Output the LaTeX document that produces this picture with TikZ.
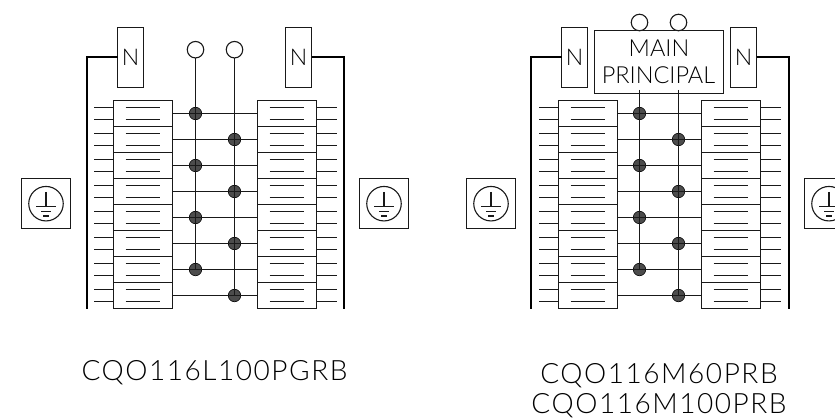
\documentclass[tikz,border=0pt]{standalone}
\usepackage{fontspec}
\newfontfamily\lbl[UprightFont={* Light},LetterSpace=5.5]{Lato}
\newfontfamily\lblN[UprightFont={* Light}]{Lato}
\begin{document}
\begin{tikzpicture}[x=1pt,y=-1pt,
  bus/.style={line width=2pt,black},
  wire/.style={line width=1.2pt,black!90},
  rowbox/.style={draw=black!90,line width=1.4pt,fill=white,minimum width=59pt,minimum height=26pt,inner sep=0pt,outer sep=0pt},
  nbox/.style={draw=black!90,line width=1.3pt,fill=white,minimum width=26pt,minimum height=60pt,inner sep=0pt,outer sep=0pt,font=\lblN\fontsize{23}{23}\selectfont},
  mbox/.style={draw=black!90,line width=1.3pt,fill=white,minimum width=129pt,minimum height=63pt,inner sep=0pt,outer sep=0pt},
  gbox/.style={draw=black!90,line width=1.2pt,fill=white,minimum width=49pt,minimum height=50pt,inner sep=0pt,outer sep=0pt},
  gcirc/.style={draw=black!90,line width=1.1pt,circle,minimum size=34.5pt,inner sep=0pt,outer sep=0pt},
  term/.style={draw=black!90,line width=1.1pt,fill=white,circle,minimum size=16.5pt,inner sep=0pt,outer sep=0pt},
  dotj/.style={draw=black,line width=.6pt,fill=black!70,circle,minimum size=12.5pt,inner sep=0pt,outer sep=0pt},
  caption/.style={font=\lbl\fontsize{28}{28}\selectfont,inner sep=0pt,anchor=base},
  mainl/.style={font=\lblN\fontsize{23.5}{23.5}\selectfont,inner sep=0pt,anchor=base}]
\path[clip,use as bounding box] (0,0) rectangle (835,419);

% ground symbol: name, centre x
\newcommand{\grd}[2]{%
  \node[gbox] (#1box) at (#2,203.5) {};
  \node[gcirc] (#1c) at (#2,203.7) {};
  \coordinate (#1a) at (#2,206.5);
  \coordinate (#1t) at (#2,192);
  \draw[wire] (#1t) -- (#1a);
  \draw[wire] ([xshift=-9.7pt]#1a) -- ([xshift=9.7pt]#1a);
  \draw[wire] ([xshift=-5pt,yshift=-5pt]#1a) -- ([xshift=5pt,yshift=-5pt]#1a);
  \draw[wire] ([xshift=-2.8pt,yshift=-9.5pt]#1a) -- ([xshift=2.8pt,yshift=-9.5pt]#1a);
}

% panel: prefix, x of left bus, x left col centre, vert 1, vert 2, x right col centre, x right bus
\newcommand{\panel}[7]{%
  \coordinate (#1LB) at (#2,309);
  \coordinate (#1RB) at (#7,309);
  \foreach \i/\yy in {1/113.5,2/139.5,3/165.5,4/191.5,5/217.5,6/243.5,7/269.5,8/295.5}{
    \node[rowbox] (#1L\i) at (#3,\yy) {};
    \node[rowbox] (#1R\i) at (#6,\yy) {};
    \foreach \o in {-6,6}{
      \draw[wire] ([shift={(-17.3pt,\o pt)}]#1L\i.center) -- ([shift={(17.3pt,\o pt)}]#1L\i.center);
      \draw[wire] ([shift={(-17.3pt,\o pt)}]#1R\i.center) -- ([shift={(17.3pt,\o pt)}]#1R\i.center);
      \draw[wire] ([yshift=\o pt]#1L\i.west) -- ++(-20,0);
      \draw[wire] ([yshift=\o pt]#1R\i.east) -- ++(20,0);
    }
  }
  \foreach \i/\xx in {1/#4,3/#4,5/#4,7/#4,2/#5,4/#5,6/#5,8/#5}{
    \node[dotj] (#1d\i) at (\xx,0 |- #1L\i.east) {};
    \draw[wire] (#1L\i.east) -- (#1R\i.west);
  }
}

\panel{p}{86.5}{143}{195.5}{234.5}{287}{343.5}
\panel{q}{530.5}{588}{639.5}{678.5}{731}{788.5}

% left panel
\node[nbox] (pN1) at (130.5,57.5) {N};
\node[nbox] (pN2) at (298.5,57.5) {N};
\coordinate (pB1) at (86.5,57.5);
\coordinate (pB2) at (343.5,57.5);
\draw[bus] (pN1.west |- pB1) -- (pB1) -- (pLB);
\draw[bus] (pN2.east |- pB2) -- (pB2) -- (pRB);
\node[term] (pT1) at (195.5,49.7) {};
\node[term] (pT2) at (234.5,49.7) {};
\draw[wire] (pT1) -- (pd7.center);
\draw[wire] (pT2) -- (pd8.center);
\grd{pg1}{46}
\grd{pg2}{384}
\node[caption] (pcap) at (214.5,380.5) {CQO116L100PGRB};

% right panel
\node[nbox] (qN1) at (574.5,57.5) {N};
\node[nbox] (qN2) at (743.5,57.5) {N};
\coordinate (qB1) at (530.5,57.5);
\coordinate (qB2) at (788.5,57.5);
\draw[bus] (qN1.west |- qB1) -- (qB1) -- (qLB);
\draw[bus] (qN2.east |- qB2) -- (qB2) -- (qRB);
\node[mbox] (qmain) at (659,62) {};
\node[term] (qT1) at (639.5,22.5) {};
\node[term] (qT2) at (678.5,22.5) {};
\coordinate (qM1) at (639.5,90);
\coordinate (qM2) at (678.5,90);
\draw[wire] (qM1) -- (qd7.center);
\draw[wire] (qM2) -- (qd8.center);
\node[mainl] (qm1) at (659,56.7) {MAIN};
\node[mainl] (qm2) at (658.5,83.3) {PRINCIPAL};
\grd{qg1}{491}
\grd{qg2}{829}
\node[caption] (qcap1) at (659,383.5) {CQO116M60PRB};
\node[caption] (qcap2) at (659,413.5) {CQO116M100PRB};
\end{tikzpicture}
\end{document}
